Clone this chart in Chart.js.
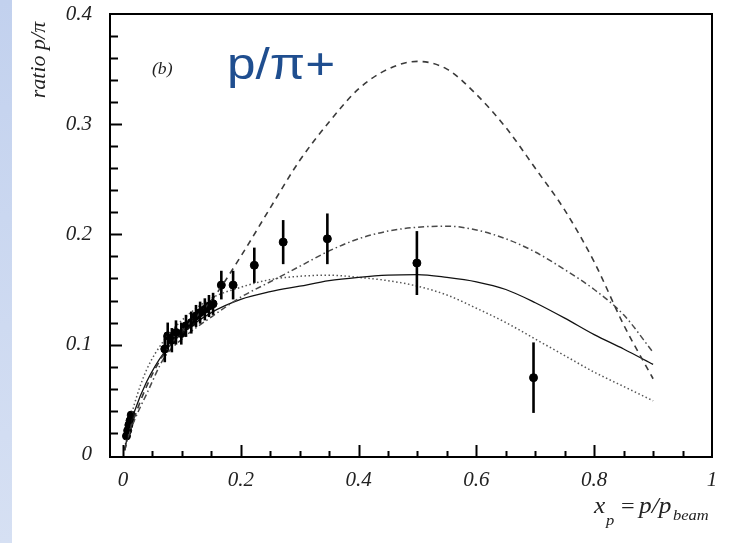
<!DOCTYPE html>
<html>
<head>
<meta charset="utf-8">
<script src="https://cdn.jsdelivr.net/npm/chart.js@4.4.1/dist/chart.umd.min.js"></script>
<style>
  html, body { margin: 0; padding: 0; background: #fff; }
  #wrap { position: relative; width: 748px; height: 543px; }
  #strip { position: absolute; left: 0; top: 0; width: 12px; height: 543px;
           background: linear-gradient(#c2d1ee, #d6e0f3); }
  #chart { position: absolute; left: 0; top: 0; }
</style>
</head>
<body>
<div id="wrap">
  <div id="strip"></div>
  <canvas id="chart" width="748" height="543"></canvas>
</div>
<script>
// ticks
const xTicks = [0, 0.2, 0.4, 0.6, 0.8, 1];
const yTicks = [0, 0.1, 0.2, 0.3, 0.4];

// measured points (x_p, ratio, error)
const pointX = [0.006, 0.008, 0.010, 0.012, 0.014,
    0.071, 0.076, 0.083, 0.090, 0.099, 0.107, 0.116, 0.124, 0.131, 0.139, 0.146, 0.153,
    0.167, 0.187, 0.223, 0.272, 0.347, 0.499, 0.697];
const pointY = [0.017, 0.022, 0.027, 0.031, 0.036,
    0.096, 0.108, 0.104, 0.111, 0.110, 0.117, 0.120, 0.126, 0.129, 0.132, 0.135, 0.137,
    0.154, 0.154, 0.172, 0.193, 0.196, 0.174, 0.070];
const pointErr = [0.003, 0.003, 0.003, 0.003, 0.003,
    0.012, 0.012, 0.011, 0.011, 0.010, 0.010, 0.010, 0.010, 0.010, 0.010, 0.010, 0.010,
    0.013, 0.013, 0.016, 0.020, 0.023, 0.029, 0.032];

// model curves
const curveX = [0.003, 0.01, 0.02, 0.04, 0.07, 0.1, 0.15, 0.2, 0.25, 0.3, 0.35, 0.4,
    0.45, 0.5, 0.55, 0.6, 0.65, 0.7, 0.75, 0.8, 0.85, 0.9];
const dashedY = [0.004, 0.02, 0.035, 0.062, 0.092, 0.112, 0.14, 0.18, 0.224, 0.267, 0.302, 0.332,
    0.35, 0.357, 0.35, 0.327, 0.297, 0.26, 0.222, 0.175, 0.118, 0.069];
const dashDotY = [0.004, 0.018, 0.032, 0.055, 0.088, 0.105, 0.125, 0.143, 0.157, 0.171, 0.185, 0.196,
    0.203, 0.2065, 0.2075, 0.204, 0.196, 0.184, 0.168, 0.15, 0.127, 0.093];
const solidY = [0.005, 0.022, 0.04, 0.066, 0.093, 0.11, 0.129, 0.141, 0.148, 0.153, 0.158, 0.161,
    0.163, 0.1635, 0.161, 0.157, 0.15, 0.138, 0.124, 0.109, 0.096, 0.082];
const dottedY = [0.006, 0.026, 0.047, 0.077, 0.104, 0.122, 0.142, 0.152, 0.159, 0.162, 0.163, 0.161,
    0.158, 0.153, 0.145, 0.133, 0.12, 0.105, 0.09, 0.075, 0.062, 0.049];

const toXY = (xs, ys) => xs.map((x, i) => ({ x, y: ys[i] }));

const curve = (label, ys, color, dash, width) => ({
    type: 'line',
    label,
    data: toXY(curveX, ys),
    borderColor: color,
    borderDash: dash,
    borderWidth: width,
    pointRadius: 0,
    fill: false,
    cubicInterpolationMode: 'monotone'
});

const serif = '"Liberation Serif", "DejaVu Serif", serif';

// text drawn slightly wider, like the stretched original
function wideText(ctx, txt, x, y, sx) {
    ctx.save();
    ctx.translate(x, y);
    ctx.scale(sx, 1);
    ctx.fillText(txt, 0, 0);
    ctx.restore();
}

// box, inward ticks, error bars and texts
const frame = {
    id: 'frame',
    afterDatasetsDraw(chart) {
        const { ctx, chartArea: a, scales: { x, y } } = chart;
        ctx.save();
        // error bars
        ctx.strokeStyle = '#000';
        ctx.lineWidth = 2.6;
        pointX.forEach((px, i) => {
            const cx = x.getPixelForValue(px);
            ctx.beginPath();
            ctx.moveTo(cx, y.getPixelForValue(pointY[i] - pointErr[i]));
            ctx.lineTo(cx, y.getPixelForValue(pointY[i] + pointErr[i]));
            ctx.stroke();
        });
        // box
        ctx.lineWidth = 2;
        ctx.strokeRect(a.left, a.top, a.right - a.left, a.bottom - a.top);
        // x ticks every 0.05
        for (let k = 0; k < 20; k++) {
            const px = Math.round(x.getPixelForValue(k * 0.05)) + 0.5;
            const len = k % 4 === 0 ? 12 : 6;
            ctx.beginPath();
            ctx.moveTo(px, a.bottom);
            ctx.lineTo(px, a.bottom - len);
            ctx.stroke();
        }
        // y ticks every 0.02
        for (let k = 1; k < 20; k++) {
            const py = Math.round(y.getPixelForValue(k * 0.02)) + 0.5;
            const len = k % 5 === 0 ? 12 : 8;
            ctx.beginPath();
            ctx.moveTo(a.left, py);
            ctx.lineTo(a.left + len, py);
            ctx.stroke();
        }

        // labels
        ctx.fillStyle = '#222';
        ctx.textBaseline = 'alphabetic';
        ctx.textAlign = 'left';
        ctx.font = 'italic 16px ' + serif;
        wideText(ctx, '(b)', 152, 74, 1.1);

        ctx.fillStyle = '#1f4e8f';
        ctx.font = '45px "Liberation Sans", Arial, sans-serif';
        wideText(ctx, 'p/\u03c0+', 227, 79, 1.14);

        // x title
        ctx.fillStyle = '#222';
        ctx.font = 'italic 23px ' + serif;
        wideText(ctx, 'x', 594, 513, 1.1);
        ctx.font = 'italic 15px ' + serif;
        wideText(ctx, 'p', 606, 525, 1.1);
        ctx.font = '22px ' + serif;
        wideText(ctx, '=', 621, 513, 1.1);
        ctx.font = 'italic 23px ' + serif;
        wideText(ctx, 'p/p', 639, 513, 1.1);
        ctx.font = 'italic 15px ' + serif;
        wideText(ctx, 'beam', 673, 520, 1.1);

        // y title
        ctx.translate(45, 60);
        ctx.rotate(-Math.PI / 2);
        ctx.textAlign = 'center';
        ctx.font = 'italic 22px ' + serif;
        ctx.fillText('ratio p/\u03c0', 0, 0);
        ctx.restore();
    }
};

const fmt = v => (v === 0 ? '0' : String(+v.toFixed(1)));

new Chart(document.getElementById('chart'), {
    type: 'scatter',
    data: {
        datasets: [
            curve('dashed', dashedY, '#3a3a3a', [6, 5], 1.6),
            curve('dash-dot', dashDotY, '#4a4a4a', [6, 3, 1.5, 3], 1.5),
            curve('solid', solidY, '#111', [], 1.3),
            curve('dotted', dottedY, '#555', [1.5, 2.5], 1.5),
            {
                type: 'scatter',
                label: 'data',
                data: toXY(pointX, pointY),
                backgroundColor: '#000',
                borderColor: '#000',
                pointRadius: 4,
                pointHoverRadius: 4
            }
        ]
    },
    options: {
        responsive: false,
        animation: false,
        layout: { padding: { top: 14, right: 36, left: 0, bottom: 0 } },
        plugins: {
            legend: { display: false },
            tooltip: { enabled: false }
        },
        scales: {
            x: {
                type: 'linear',
                min: -0.022,
                max: 1,
                afterBuildTicks: s => { s.ticks = xTicks.map(value => ({ value })); },
                afterFit: s => { s.height = 86; s.paddingLeft = 0; s.paddingRight = 0; },
                grid: { display: false, drawTicks: false },
                border: { display: false },
                ticks: {
                    padding: 11,
                    color: '#222',
                    font: { family: serif, style: 'italic', size: 21 },
                    callback: fmt,
                    maxRotation: 0
                }
            },
            y: {
                type: 'linear',
                min: -0.002,
                max: 0.4,
                afterBuildTicks: s => { s.ticks = yTicks.map(value => ({ value })); },
                afterFit: s => { s.width = 110; s.paddingTop = 0; s.paddingBottom = 0; },
                grid: { display: false, drawTicks: false },
                border: { display: false },
                ticks: {
                    padding: 18,
                    color: '#222',
                    font: { family: serif, style: 'italic', size: 21 },
                    callback: fmt
                }
            }
        }
    },
    plugins: [frame]
});
</script>
</body>
</html>
